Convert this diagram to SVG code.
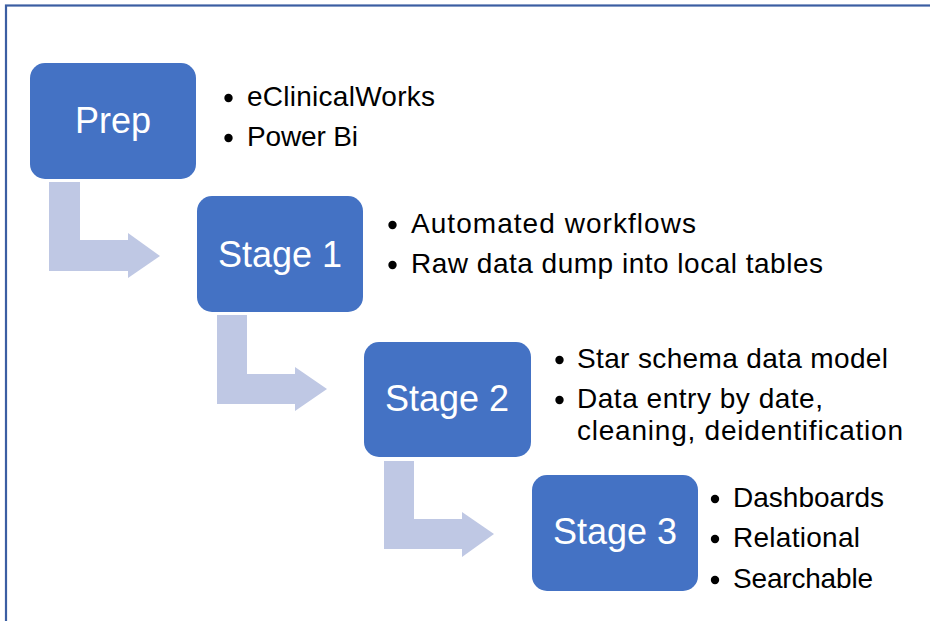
<svg xmlns="http://www.w3.org/2000/svg" width="930" height="621" viewBox="0 0 930 621">
<style>
.box{fill:#4472c4}
.arr{fill:#bfc8e4}
.lbl{font-family:"Liberation Sans",Arial,sans-serif;font-size:36px;fill:#ffffff;text-anchor:middle}
.txt{font-family:"Liberation Sans",Arial,sans-serif;font-size:28px;fill:#000000}
.dot{fill:#000000}
</style>
<rect x="0" y="0" width="930" height="621" fill="#ffffff"/>
<rect x="6" y="5.5" width="1000" height="1000" fill="none" stroke="#3b5ea2" stroke-width="2.2"/>
<g id="connectors">
<polygon class="arr" points="49,182 80,182 80,240 128,240 128,233 160,256 128,278 128,271 49,271"/>
<polygon class="arr" points="217,315 247,315 247,374 295,374 295,367 327,389 295,411 295,404 217,404"/>
<polygon class="arr" points="384,461 414,461 414,519 462,519 462,512 494,534 462,557 462,549 384,549"/>
</g>
<g id="prep">
<rect class="box" x="30" y="63" width="166" height="116" rx="15"/>
<text class="lbl" x="113" y="133">Prep</text>
<circle class="dot" cx="228.5" cy="98" r="4.2"/>
<text class="txt" x="247" y="106" textLength="188" lengthAdjust="spacing">eClinicalWorks</text>
<circle class="dot" cx="228.5" cy="138" r="4.2"/>
<text class="txt" x="247" y="146" textLength="111" lengthAdjust="spacing">Power Bi</text>
</g>
<g id="stage1">
<rect class="box" x="197" y="196" width="166" height="116" rx="15"/>
<text class="lbl" x="280" y="267">Stage 1</text>
<circle class="dot" cx="392.5" cy="225" r="4.2"/>
<text class="txt" x="411" y="233" textLength="285" lengthAdjust="spacing">Automated workflows</text>
<circle class="dot" cx="392.5" cy="265" r="4.2"/>
<text class="txt" x="411" y="273" textLength="412" lengthAdjust="spacing">Raw data dump into local tables</text>
</g>
<g id="stage2">
<rect class="box" x="364" y="342" width="167" height="115" rx="15"/>
<text class="lbl" x="447" y="411">Stage 2</text>
<circle class="dot" cx="559.5" cy="360" r="4.2"/>
<text class="txt" x="577" y="368" textLength="311" lengthAdjust="spacing">Star schema data model</text>
<circle class="dot" cx="559.5" cy="400" r="4.2"/>
<text class="txt" x="577" y="408" textLength="246" lengthAdjust="spacing">Data entry by date,</text>
<text class="txt" x="577" y="440" textLength="326" lengthAdjust="spacing">cleaning, deidentification</text>
</g>
<g id="stage3">
<rect class="box" x="532" y="475" width="166" height="116" rx="15"/>
<text class="lbl" x="615" y="544">Stage 3</text>
<circle class="dot" cx="715" cy="499" r="4.2"/>
<text class="txt" x="733" y="507" textLength="151" lengthAdjust="spacing">Dashboards</text>
<circle class="dot" cx="715" cy="539" r="4.2"/>
<text class="txt" x="733" y="547" textLength="127" lengthAdjust="spacing">Relational</text>
<circle class="dot" cx="715" cy="580" r="4.2"/>
<text class="txt" x="733" y="588" textLength="140" lengthAdjust="spacing">Searchable</text>
</g>
</svg>
